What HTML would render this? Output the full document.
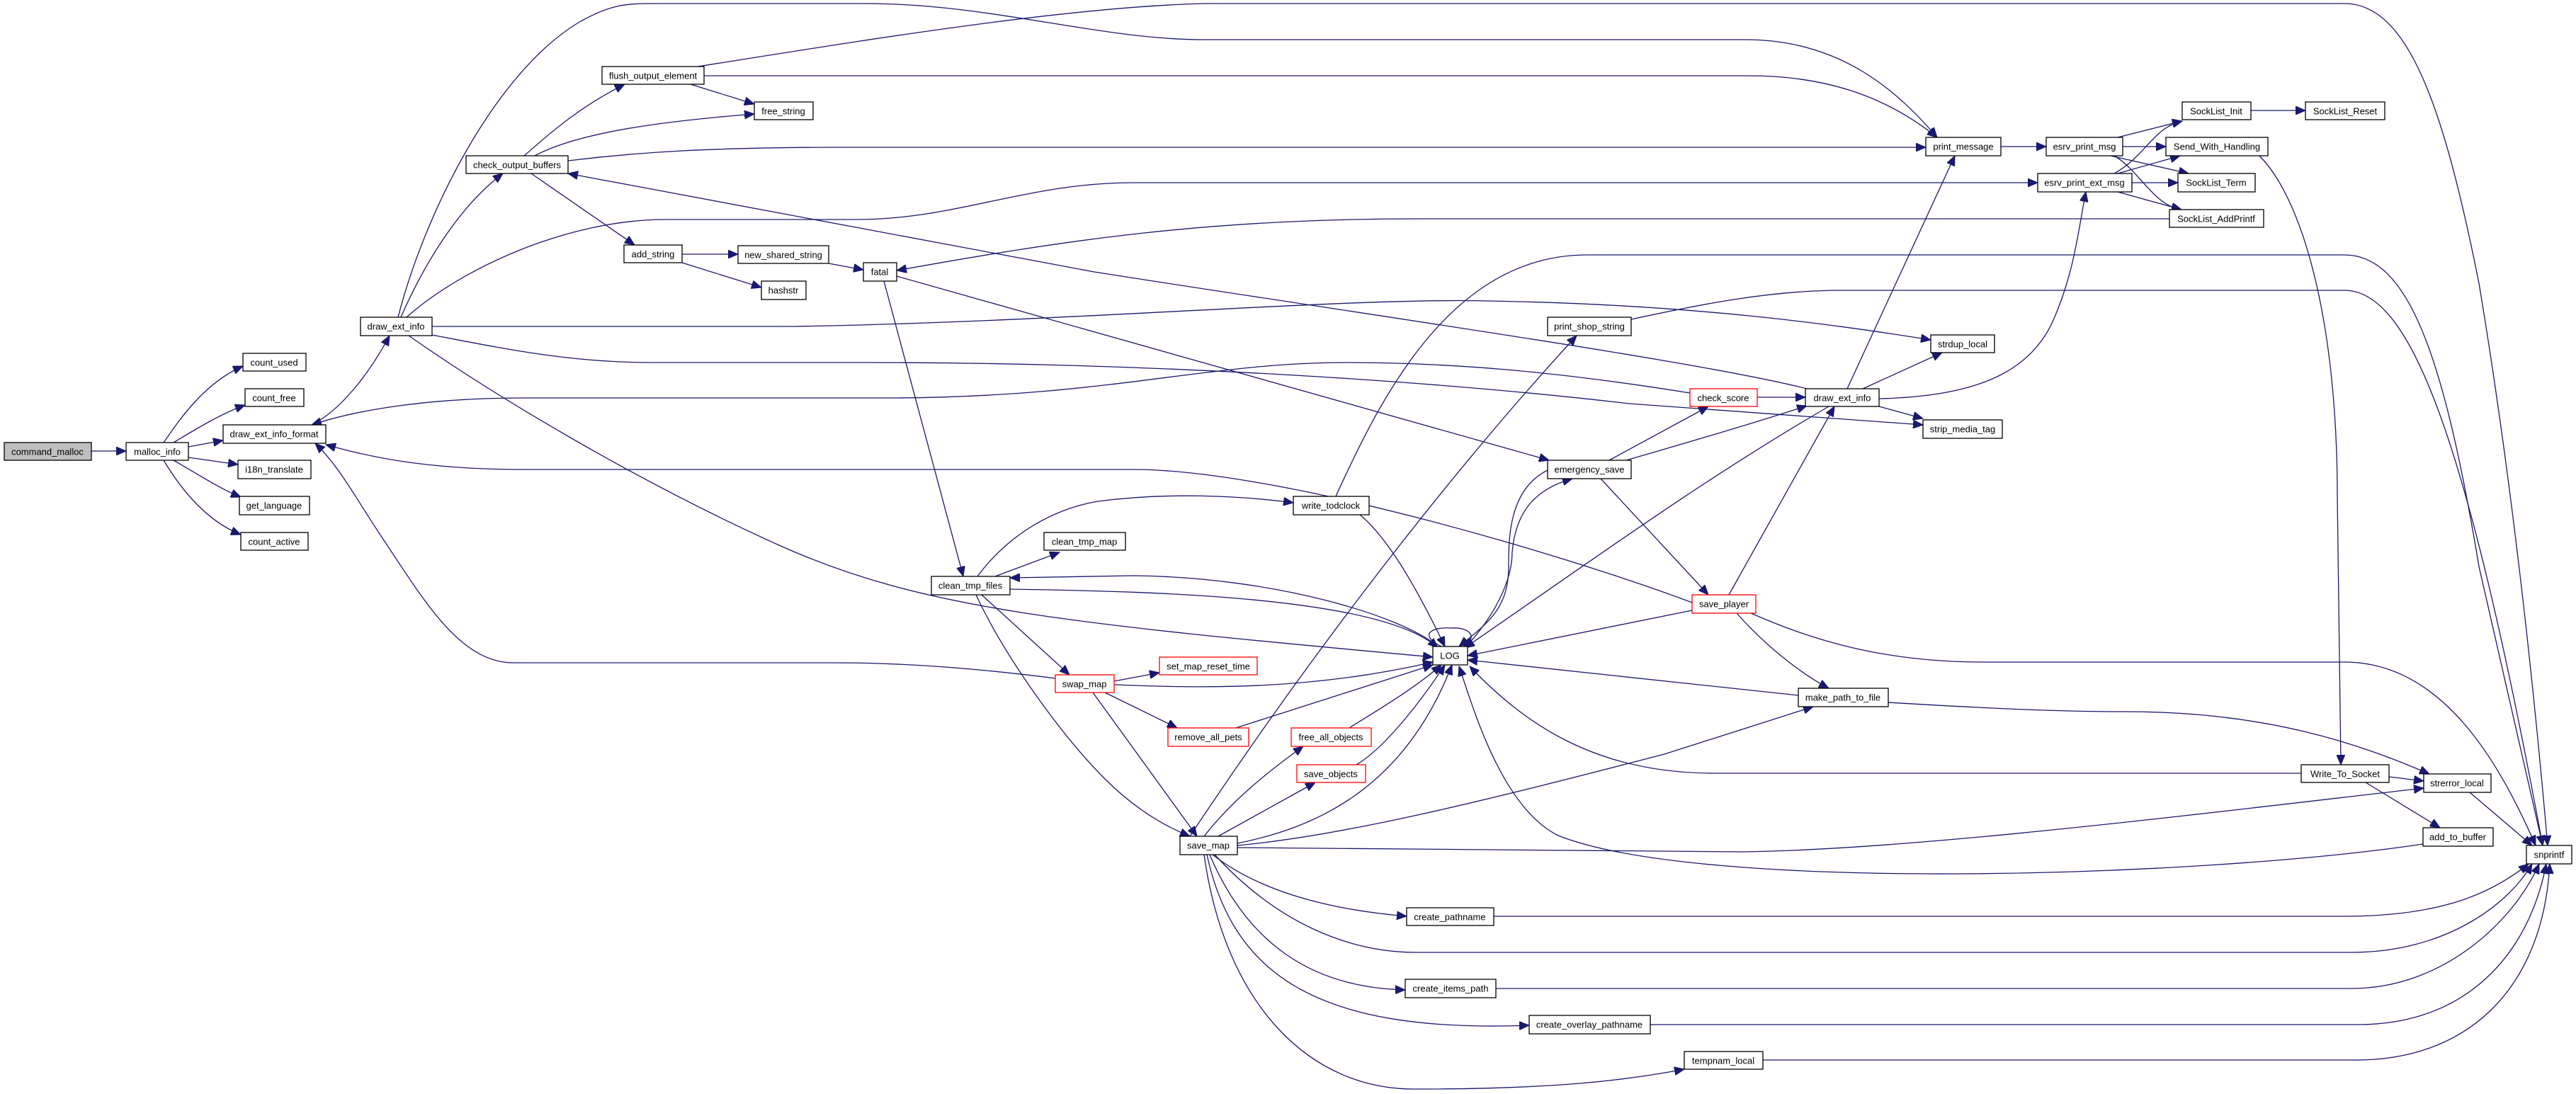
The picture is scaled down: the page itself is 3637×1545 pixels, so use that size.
<!DOCTYPE html>
<html><head><meta charset="utf-8"><style>
html,body{margin:0;padding:0;background:#fff;}
svg{display:block;}
text{font-family:"Liberation Sans",Arial,sans-serif;font-size:13px;text-anchor:middle;dominant-baseline:central;fill:#000;}
.e{fill:none;stroke:#191970;stroke-width:1.3;marker-end:url(#a);}
.n{fill:#fff;stroke:#000;stroke-width:1.3;}
.r{fill:#fff;stroke:#ff0000;stroke-width:1.3;}
.g{fill:#bfbfbf;stroke:#000;stroke-width:1.3;}
</style></head><body>
<svg width="3637" height="1545" viewBox="0 0 3637 1545" xmlns="http://www.w3.org/2000/svg">
<defs><marker id="a" markerUnits="userSpaceOnUse" markerWidth="16" markerHeight="12" refX="14" refY="6" orient="auto"><path d="M0,0 L14,6 L0,12 Z" fill="#191970" stroke="#191970"/></marker></defs>
<g>
<path class="e" d="M129,637 L178,637"/>
<path class="e" d="M231,625 C255,590 290,540 343,517"/>
<path class="e" d="M245,625 C270,610 310,585 346,572"/>
<path class="e" d="M266,631 L315,622"/>
<path class="e" d="M266,646 L336,656"/>
<path class="e" d="M245,650 C280,670 310,690 340,702"/>
<path class="e" d="M231,650 C255,690 290,735 340,755"/>
<path class="e" d="M440,600 C480,580 520,530 550,474"/>
<path class="e" d="M566,448 C600,370 650,290 710,245"/>
<path class="e" d="M562,448 C600,300 700,100 820,30 C860,8 880,5 920,5 L1222,5 C1400,5 1550,56 1700,56 L2464,56 C2600,56 2680,130 2735,194"/>
<path class="e" d="M985,94 C1200,60 1500,10 1700,5 L3310,5 C3400,5 3450,150 3500,400 C3550,700 3580,1000 3597,1194"/>
<path class="e" d="M994,107 L2470,107 C2600,107 2680,150 2735,194"/>
<path class="e" d="M975,119 L1065,147"/>
<path class="e" d="M740,220 C780,185 820,150 882,119"/>
<path class="e" d="M755,220 C820,185 950,170 1065,161"/>
<path class="e" d="M802,227 C900,215 1000,208 1200,208 L2719,208"/>
<path class="e" d="M750,245 L896,346"/>
<path class="e" d="M963,359 L1042,359"/>
<path class="e" d="M963,371 L1075,406"/>
<path class="e" d="M1170,372 L1219,381"/>
<path class="e" d="M574,448 C650,380 800,310 940,310 L1210,310 C1350,310 1450,258 1600,258 L2877,258"/>
<path class="e" d="M3063,309 L2000,309 C1700,309 1500,340 1266,382"/>
<path class="e" d="M1248,397 L1360,814"/>
<path class="e" d="M1266,390 L2187,650"/>
<path class="e" d="M2551,549 C2400,510 1900,440 1545,384 L802,245"/>
<path class="e" d="M610,461 L1120,461 C1500,455 1900,420 2100,425 C2400,430 2600,460 2726,480"/>
<path class="e" d="M610,473 C700,490 800,512 920,512 L1230,512 C1600,512 2000,535 2300,570 L2715,600"/>
<path class="e" d="M2386,555 C2200,525 2050,512 1900,512 C1700,512 1560,562 1250,562 L740,562 C600,562 500,580 440,600"/>
<path class="e" d="M577,474 C700,560 900,680 1100,770 C1300,860 1500,880 2023,928"/>
<path class="e" d="M2392,852 C2200,780 1800,663 1600,663 L740,663 C600,663 520,645 460,628"/>
<path class="e" d="M1490,958 C1350,940 1250,936 1180,936 L725,936 C650,936 600,850 540,760 C500,700 480,660 445,626"/>
<path class="e" d="M1405,814 L1496,780"/>
<path class="e" d="M1380,814 C1420,760 1480,720 1550,708 C1650,695 1750,700 1826,710"/>
<path class="e" d="M1386,840 L1510,953"/>
<path class="e" d="M1378,840 C1420,930 1500,1040 1560,1100 C1600,1140 1640,1165 1680,1181"/>
<path class="e" d="M2030,913 C1980,870 1800,815 1600,813 L1426,816"/>
<path class="e" d="M1426,832 C1600,835 1950,840 2030,915"/>
<path class="e" d="M1920,727 C1960,760 2000,830 2040,913"/>
<path class="e" d="M1886,701 C1950,560 2050,360 2240,360 L3310,360 C3400,360 3450,500 3500,800 L3590,1194"/>
<path class="e" d="M2303,451 C2400,430 2500,410 2600,410 L3310,410 C3400,410 3480,600 3590,1194"/>
<path class="e" d="M1680,1181 C1800,1000 2000,720 2226,474"/>
<path class="e" d="M2272,650 L2412,574"/>
<path class="e" d="M2296,650 C2400,620 2500,590 2551,573"/>
<path class="e" d="M2260,676 L2412,840"/>
<path class="e" d="M2187,663 C2130,690 2130,760 2130,800 C2130,860 2100,880 2060,913"/>
<path class="e" d="M2070,913 C2110,870 2135,820 2135,780 C2140,720 2170,690 2220,676"/>
<path class="e" d="M2481,561 L2549,561"/>
<path class="e" d="M2608,549 L2760,220"/>
<path class="e" d="M2630,549 L2742,498"/>
<path class="e" d="M2653,574 L2715,591"/>
<path class="e" d="M2653,563 C2800,560 2870,520 2900,450 C2930,380 2935,320 2945,271"/>
<path class="e" d="M2582,574 C2400,680 2250,790 2068,915"/>
<path class="e" d="M2441,840 L2590,574"/>
<path class="e" d="M2389,862 L2072,926"/>
<path class="e" d="M2452,866 C2500,920 2550,955 2582,972"/>
<path class="e" d="M2472,866 C2550,900 2650,935 2800,935 L3310,935 C3450,935 3530,1080 3580,1194"/>
<path class="e" d="M2539,982 L2072,932"/>
<path class="e" d="M2666,992 C2800,1000 2900,1005 3000,1005 C3200,1005 3330,1050 3430,1093"/>
<path class="e" d="M1573,962 L1637,950"/>
<path class="e" d="M1573,967 C1700,972 1850,975 2023,935"/>
<path class="e" d="M1560,978 L1662,1028"/>
<path class="e" d="M1543,978 L1690,1181"/>
<path class="e" d="M1745,1028 L2023,939"/>
<path class="e" d="M1905,1028 C1950,1000 2000,970 2035,939"/>
<path class="e" d="M1700,1181 C1740,1130 1790,1090 1840,1054"/>
<path class="e" d="M1915,1080 C1950,1060 2000,1000 2040,939"/>
<path class="e" d="M1720,1181 L1857,1105"/>
<path class="e" d="M1747,1191 C1850,1170 1980,1120 2050,939"/>
<path class="e" d="M1747,1194 C1900,1180 2100,1130 2350,1065 L2560,998"/>
<path class="e" d="M1747,1197 L2460,1203 C2700,1200 3100,1150 3422,1113"/>
<path class="e" d="M1712,1207 C1780,1260 1880,1285 1986,1294"/>
<path class="e" d="M1715,1207 C1800,1300 1900,1345 2000,1345 L3320,1345 C3450,1345 3540,1280 3575,1220"/>
<path class="e" d="M1708,1207 C1760,1330 1850,1395 1984,1398"/>
<path class="e" d="M1704,1207 C1740,1370 1850,1460 2159,1448"/>
<path class="e" d="M1700,1207 C1730,1420 1850,1540 2000,1538 C2200,1538 2300,1525 2378,1510"/>
<path class="e" d="M2109,1294 L3310,1294 C3450,1294 3520,1260 3570,1220"/>
<path class="e" d="M2112,1396 L3320,1396 C3450,1396 3550,1300 3585,1220"/>
<path class="e" d="M2330,1447 L3330,1447 C3480,1447 3570,1350 3595,1220"/>
<path class="e" d="M2489,1497 L3320,1497 C3480,1500 3590,1400 3600,1220"/>
<path class="e" d="M3249,1092 L2420,1092 C2250,1092 2150,1020 2075,941"/>
<path class="e" d="M3421,1192 C3100,1240 2400,1260 2200,1180 C2120,1140 2080,1000 2060,941"/>
<path class="e" d="M3190,220 C3250,280 3300,450 3300,700 L3305,1080"/>
<path class="e" d="M3373,1097 L3422,1103"/>
<path class="e" d="M3340,1105 L3445,1169"/>
<path class="e" d="M3487,1119 L3575,1194"/>
<path class="e" d="M2825,207 L2889,207"/>
<path class="e" d="M2990,194 L3081,171"/>
<path class="e" d="M2997,207 L3058,207"/>
<path class="e" d="M2980,220 L3090,245"/>
<path class="e" d="M2985,220 C3020,240 3040,290 3080,296"/>
<path class="e" d="M2985,245 C3030,220 3040,180 3081,171"/>
<path class="e" d="M2990,245 L3078,220"/>
<path class="e" d="M3010,258 L3075,258"/>
<path class="e" d="M2990,271 L3080,296"/>
<path class="e" d="M3178,156 L3255,156"/>
<path class="e" d="M2035,913 C2000,895 2025,885 2048,887 C2075,885 2088,900 2066,913"/>
</g>
<g>
<rect class="g" x="6" y="625" width="123" height="25"/><text x="67" y="638">command_malloc</text>
<rect class="n" x="178" y="625" width="88" height="25"/><text x="222" y="638">malloc_info</text>
<rect class="n" x="343" y="499" width="89" height="25"/><text x="387" y="512">count_used</text>
<rect class="n" x="346" y="549" width="83" height="25"/><text x="387" y="562">count_free</text>
<rect class="n" x="315" y="600" width="145" height="26"/><text x="387" y="613">draw_ext_info_format</text>
<rect class="n" x="336" y="650" width="103" height="26"/><text x="387" y="663">i18n_translate</text>
<rect class="n" x="338" y="701" width="99" height="26"/><text x="387" y="714">get_language</text>
<rect class="n" x="340" y="752" width="95" height="25"/><text x="387" y="765">count_active</text>
<rect class="n" x="509" y="448" width="101" height="26"/><text x="559" y="461">draw_ext_info</text>
<rect class="n" x="658" y="220" width="144" height="25"/><text x="730" y="233">check_output_buffers</text>
<rect class="n" x="850" y="94" width="144" height="25"/><text x="922" y="107">flush_output_element</text>
<rect class="n" x="1065" y="144" width="83" height="25"/><text x="1106" y="157">free_string</text>
<rect class="n" x="881" y="346" width="82" height="25"/><text x="922" y="359">add_string</text>
<rect class="n" x="1042" y="347" width="128" height="25"/><text x="1106" y="360">new_shared_string</text>
<rect class="n" x="1075" y="397" width="63" height="26"/><text x="1106" y="410">hashstr</text>
<rect class="n" x="1219" y="371" width="47" height="26"/><text x="1242" y="384">fatal</text>
<rect class="n" x="1315" y="814" width="111" height="26"/><text x="1370" y="827">clean_tmp_files</text>
<rect class="n" x="1474" y="752" width="115" height="25"/><text x="1531" y="765">clean_tmp_map</text>
<rect class="r" x="1490" y="953" width="83" height="25"/><text x="1531" y="966">swap_map</text>
<rect class="n" x="1826" y="701" width="107" height="26"/><text x="1879" y="714">write_todclock</text>
<rect class="r" x="1637" y="928" width="138" height="25"/><text x="1706" y="941">set_map_reset_time</text>
<rect class="r" x="1649" y="1028" width="114" height="26"/><text x="1706" y="1041">remove_all_pets</text>
<rect class="r" x="1823" y="1028" width="113" height="26"/><text x="1879" y="1041">free_all_objects</text>
<rect class="r" x="1831" y="1080" width="97" height="25"/><text x="1879" y="1093">save_objects</text>
<rect class="n" x="1666" y="1181" width="81" height="26"/><text x="1706" y="1194">save_map</text>
<rect class="n" x="2023" y="913" width="49" height="26"/><text x="2047" y="926">LOG</text>
<rect class="n" x="2185" y="448" width="118" height="26"/><text x="2244" y="461">print_shop_string</text>
<rect class="n" x="2185" y="650" width="118" height="26"/><text x="2244" y="663">emergency_save</text>
<rect class="r" x="2386" y="549" width="95" height="25"/><text x="2433" y="562">check_score</text>
<rect class="r" x="2389" y="840" width="90" height="26"/><text x="2434" y="853">save_player</text>
<rect class="n" x="2549" y="549" width="104" height="25"/><text x="2601" y="562">draw_ext_info</text>
<rect class="n" x="2539" y="972" width="127" height="26"/><text x="2602" y="985">make_path_to_file</text>
<rect class="n" x="1986" y="1282" width="123" height="25"/><text x="2047" y="1295">create_pathname</text>
<rect class="n" x="1984" y="1383" width="128" height="26"/><text x="2048" y="1396">create_items_path</text>
<rect class="n" x="2159" y="1434" width="171" height="26"/><text x="2244" y="1447">create_overlay_pathname</text>
<rect class="n" x="2378" y="1485" width="111" height="25"/><text x="2433" y="1498">tempnam_local</text>
<rect class="n" x="2726" y="473" width="90" height="25"/><text x="2771" y="486">strdup_local</text>
<rect class="n" x="2715" y="593" width="112" height="26"/><text x="2771" y="606">strip_media_tag</text>
<rect class="n" x="2719" y="194" width="106" height="26"/><text x="2772" y="207">print_message</text>
<rect class="n" x="2889" y="194" width="108" height="26"/><text x="2943" y="207">esrv_print_msg</text>
<rect class="n" x="2877" y="245" width="133" height="26"/><text x="2943" y="258">esrv_print_ext_msg</text>
<rect class="n" x="3081" y="144" width="97" height="25"/><text x="3129" y="157">SockList_Init</text>
<rect class="n" x="3255" y="144" width="112" height="25"/><text x="3311" y="157">SockList_Reset</text>
<rect class="n" x="3058" y="194" width="144" height="26"/><text x="3130" y="207">Send_With_Handling</text>
<rect class="n" x="3075" y="245" width="109" height="26"/><text x="3129" y="258">SockList_Term</text>
<rect class="n" x="3063" y="296" width="133" height="25"/><text x="3129" y="309">SockList_AddPrintf</text>
<rect class="n" x="3249" y="1080" width="124" height="25"/><text x="3311" y="1093">Write_To_Socket</text>
<rect class="n" x="3422" y="1093" width="95" height="26"/><text x="3469" y="1106">strerror_local</text>
<rect class="n" x="3421" y="1169" width="99" height="26"/><text x="3470" y="1182">add_to_buffer</text>
<rect class="n" x="3567" y="1194" width="64" height="26"/><text x="3599" y="1207">snprintf</text>
</g>
</svg>
</body></html>
